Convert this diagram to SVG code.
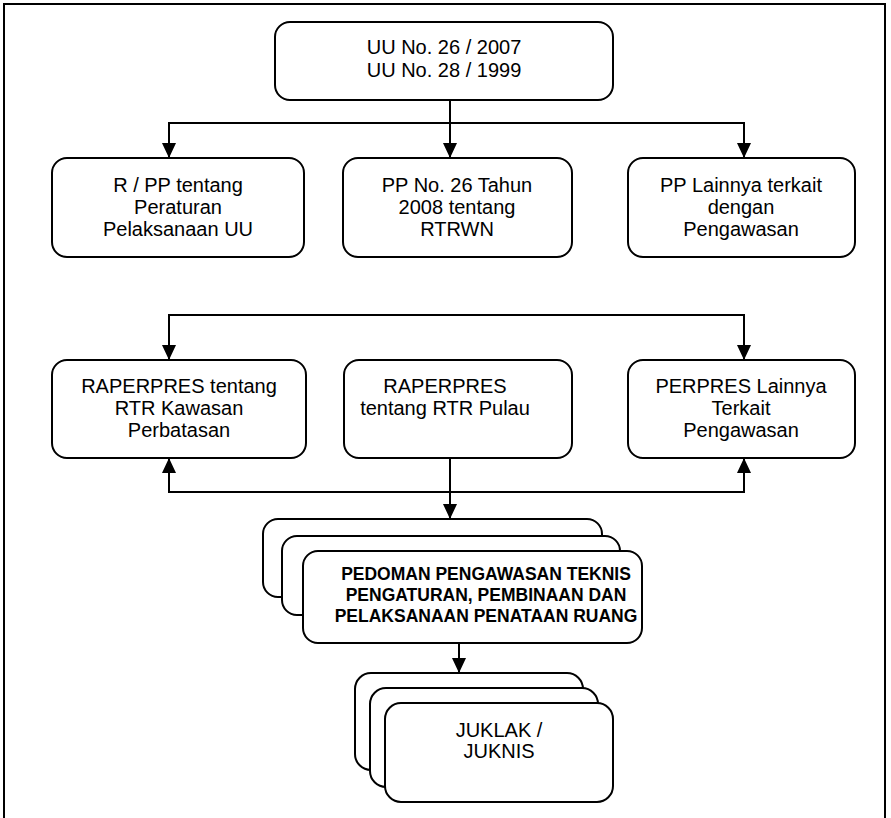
<svg xmlns="http://www.w3.org/2000/svg" width="891" height="818" viewBox="0 0 891 818">
<style>
.b{fill:#fff;stroke:#000;stroke-width:2}
.t{font-family:"Liberation Sans",Arial,sans-serif;font-size:20px;fill:#000;text-anchor:middle}
.tb{font-family:"Liberation Sans",Arial,sans-serif;font-size:17.5px;font-weight:bold;fill:#000;text-anchor:middle}
.c{fill:none;stroke:#000;stroke-width:2}
</style>
<defs>
<marker id="ah" viewBox="0 0 15 14" refX="15" refY="7" markerWidth="15" markerHeight="14" markerUnits="userSpaceOnUse" orient="auto">
<path d="M0,0 L15,7 L0,14 Z" fill="#000"/>
</marker>
</defs>
<rect x="4" y="4" width="881" height="830" fill="#fff" stroke="#000" stroke-width="2"/>
<g id="connectors">
<line class="c" x1="450" y1="100" x2="450" y2="158" marker-end="url(#ah)"/>
<line class="c" x1="169" y1="123" x2="745" y2="123"/>
<line class="c" x1="169" y1="122" x2="169" y2="158" marker-end="url(#ah)"/>
<line class="c" x1="744" y1="122" x2="744" y2="158" marker-end="url(#ah)"/>
<line class="c" x1="169" y1="315" x2="745" y2="315"/>
<line class="c" x1="169" y1="314" x2="169" y2="360" marker-end="url(#ah)"/>
<line class="c" x1="744" y1="314" x2="744" y2="360" marker-end="url(#ah)"/>
<line class="c" x1="169" y1="492" x2="745" y2="492"/>
<line class="c" x1="169" y1="493" x2="169" y2="458" marker-end="url(#ah)"/>
<line class="c" x1="744" y1="493" x2="744" y2="458" marker-end="url(#ah)"/>
<line class="c" x1="450" y1="458" x2="450" y2="519" marker-end="url(#ah)"/>
<line class="c" x1="459" y1="643" x2="459" y2="673" marker-end="url(#ah)"/>
</g>
<g id="uu">
<rect class="b" x="275" y="22" width="338" height="78" rx="15"/>
<text class="t" x="444" y="54">UU No. 26 / 2007</text>
<text class="t" x="444" y="77">UU No. 28 / 1999</text>
</g>
<g id="rpp">
<rect class="b" x="52" y="158" width="252" height="99" rx="15"/>
<text class="t" x="178" y="192">R / PP tentang</text>
<text class="t" x="178" y="214">Peraturan</text>
<text class="t" x="178" y="236">Pelaksanaan UU</text>
</g>
<g id="pp26">
<rect class="b" x="343" y="158" width="229" height="99" rx="15"/>
<text class="t" x="457" y="192">PP No. 26 Tahun</text>
<text class="t" x="457" y="214">2008 tentang</text>
<text class="t" x="457" y="236">RTRWN</text>
</g>
<g id="pplain">
<rect class="b" x="628" y="158" width="227" height="99" rx="15"/>
<text class="t" x="741" y="192">PP Lainnya terkait</text>
<text class="t" x="741" y="214">dengan</text>
<text class="t" x="741" y="236">Pengawasan</text>
</g>
<g id="raperpres-batas">
<rect class="b" x="52" y="360" width="254" height="98" rx="15"/>
<text class="t" x="179" y="393">RAPERPRES tentang</text>
<text class="t" x="179" y="415">RTR Kawasan</text>
<text class="t" x="179" y="437">Perbatasan</text>
</g>
<g id="raperpres-pulau">
<rect class="b" x="344" y="360" width="228" height="98" rx="15"/>
<text class="t" x="445" y="393">RAPERPRES</text>
<text class="t" x="445" y="415">tentang RTR Pulau</text>
</g>
<g id="perpres-lain">
<rect class="b" x="628" y="360" width="227" height="98" rx="15"/>
<text class="t" x="741" y="393">PERPRES Lainnya</text>
<text class="t" x="741" y="415">Terkait</text>
<text class="t" x="741" y="437">Pengawasan</text>
</g>
<g id="pedoman">
<rect class="b" x="263" y="519" width="339" height="78" rx="15"/>
<rect class="b" x="282" y="536" width="338" height="79" rx="15"/>
<rect class="b" x="303" y="551" width="339" height="92" rx="15"/>
<text class="tb" x="486" y="580">PEDOMAN PENGAWASAN TEKNIS</text>
<text class="tb" x="486" y="601">PENGATURAN, PEMBINAAN DAN</text>
<text class="tb" x="486" y="622">PELAKSANAAN PENATAAN RUANG</text>
</g>
<g id="juklak">
<rect class="b" x="355" y="673" width="228" height="97" rx="16"/>
<rect class="b" x="370" y="688" width="228" height="99" rx="16"/>
<rect class="b" x="385" y="703" width="228" height="99" rx="16"/>
<text class="t" x="499" y="737">JUKLAK /</text>
<text class="t" x="499" y="758">JUKNIS</text>
</g>
</svg>
